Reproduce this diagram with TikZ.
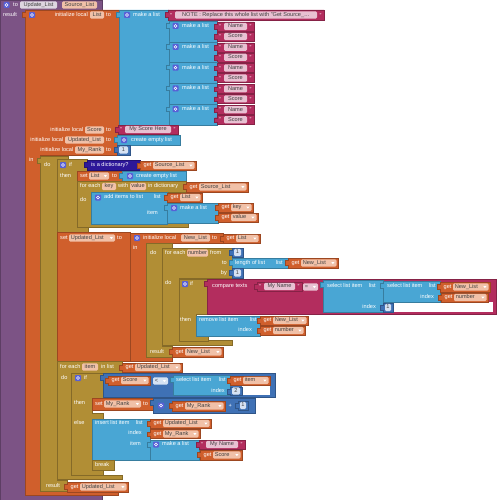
\documentclass[tikz,border=0pt]{standalone}
\usepackage{fontspec}
\setmainfont{Liberation Sans}
\definecolor{proc}{RGB}{124,83,133}
\definecolor{var}{RGB}{208,95,44}
\definecolor{ctl}{RGB}{177,142,53}
\definecolor{lst}{RGB}{73,166,212}
\definecolor{txt}{RGB}{179,45,94}
\definecolor{mth}{RGB}{63,113,181}
\definecolor{dct}{RGB}{45,23,153}
\definecolor{fvar}{RGB}{241,193,168}
\definecolor{ftxt}{RGB}{232,193,210}
\definecolor{fnum}{RGB}{214,226,243}
\definecolor{fproc}{RGB}{222,214,224}
\definecolor{gearc}{RGB}{88,96,214}
\newcounter{nid}
\newcommand\bx[5]{\filldraw[blk=#1] ({#2},{#3}) rectangle ({#4},{#5});}
\newcommand\vb[5]{\filldraw[blk=#1] ({#2},{#3}) -- ({#4},{#3}) -- ({#4},{#5}) -- ({#2},{#5}) -- ({#2},{#3+7}) -- ({#2-2.5},{#3+7}) -- ({#2-2.5},{#3+2.5}) -- ({#2},{#3+2.5}) -- cycle;}
\newcommand\lb[3]{\stepcounter{nid}\node[lbl,anchor=west] (n\arabic{nid}) at ({#1},{#2}) {#3};}
\newcommand\lbe[3]{\stepcounter{nid}\node[lbl,anchor=east] (n\arabic{nid}) at ({#1},{#2}) {#3};}
\newcommand\fl[5]{\fill[#1,rounded corners=1.2pt] ({#2},{#4-3.6}) rectangle ({#3},{#4+3.6});\stepcounter{nid}\node[ftx] (n\arabic{nid}) at ({(#2+#3)/2},{#4}) {#5};}
\newcommand\dfl[5]{\fill[#1,rounded corners=1.2pt] ({#2},{#4-3.6}) rectangle ({#3},{#4+3.6});\stepcounter{nid}\node[ftx,anchor=west] (n\arabic{nid}) at ({#2+1.6},{#4}) {#5};\fill[white] ({#3-5.2},{#4-0.9}) -- ({#3-2},{#4-0.9}) -- ({#3-3.6},{#4+1.1}) -- cycle;}
\newcommand\gr[2]{\fill[gearc,rounded corners=0.8pt] ({#1-3},{#2-3}) rectangle ({#1+3},{#2+3});\draw[white,line width=0.55pt] ({#1},{#2}) circle (1.4pt);}
\newcommand\getb[5]{\vb{var}{#1}{#3}{#2}{#4}\lb{#1+3.5}{(#3+#4)/2}{get}\dfl{fvar}{#1+13}{#2-1.5}{(#3+#4)/2}{#5}}
\newcommand\tb[5]{\vb{txt}{#1}{#3}{#2}{#4}\lb{#1+2}{(#3+#4)/2+0.8}{"}\lb{#2-4.5}{(#3+#4)/2+0.8}{"}\fl{ftxt}{#1+7}{#2-7}{(#3+#4)/2}{#5}}
\newcommand\nb[5]{\vb{mth}{#1}{#3}{#2}{#4}\fl{fnum}{#1+2}{#2-2}{(#3+#4)/2}{#5}}
\begin{document}
\begin{tikzpicture}[x=1pt,y=-1pt,
  blk/.style={fill=#1,draw=#1!75!black,line width=0.35pt},
  lbl/.style={text=white,font=\fontsize{5.6}{6.4}\selectfont,inner sep=0pt,text height=4pt,text depth=1.1pt},
  ftx/.style={text=black!75,font=\fontsize{5.6}{6.4}\selectfont,inner sep=0pt,text height=4pt,text depth=1.1pt}]
\useasboundingbox (0,0) rectangle (497,500);
% procedure
\filldraw[blk=proc] (0,0) -- (102,0) -- (102,10) -- (25,10) -- (25,495) -- (102,495) -- (102,500) -- (0,500) -- cycle;
\gr{6.5}{5}
\lb{13}{5}{to}
\fl{fproc}{20}{57}{5}{Update\_List}
\fl{fvar}{62}{97}{5}{Source\_List}
\lb{3}{15}{result}
% initialize local (outer)
\filldraw[blk=var] (25,10) -- (119,10) -- (119,155) -- (40,155) -- (40,491) -- (118,491) -- (118,495) -- (25,495) -- (25,17) -- (22.5,17) -- (22.5,12.5) -- (25,12.5) -- cycle;
\gr{32}{15}
\lbe{88}{15}{initialize local}\fl{fvar}{90}{104}{15}{List}\lb{106}{15}{to}
\lbe{83.5}{130}{initialize local}\fl{fvar}{85}{104}{130}{Score}\lb{106}{130}{to}
\lbe{63.5}{140}{initialize local}\fl{fvar}{65}{104}{140}{Updated\_List}\lb{106}{140}{to}
\lbe{73.5}{150}{initialize local}\fl{fvar}{75}{104}{150}{My\_Rank}\lb{106}{150}{to}
\lb{29}{160}{in}
% make a list (outer)
\vb{lst}{119}{10}{169}{126}
\gr{127}{15}\lb{133}{15}{make a list}
\tb{168}{324}{10}{20}{NOTE : Replace this whole list with "Get Source\_…}
\foreach \t in {21,41.8,62.6,83.4,104.2}{
  \vb{lst}{169}{\t}{217}{\t+21}
  \gr{175.5}{\t+5}\lb{182}{\t+5}{make a list}
  \tb{217}{254}{\t+1}{\t+10}{Name}
  \tb{217}{254}{\t+11}{\t+20}{Score}
}
\tb{118}{178}{125}{134}{My Score Here}
\vb{lst}{117}{135}{180}{145}\gr{124}{140}\lb{131}{140}{create empty list}
\nb{117}{130}{145}{155}{1}
% main do block
\filldraw[blk=ctl] (40,156) -- (68,156) -- (68,159) -- (57,159) -- (57,480) -- (67,480) -- (67,491) -- (40,491) -- (40,163) -- (37.5,163) -- (37.5,158.5) -- (40,158.5) -- cycle;
\lb{44}{165}{do}
\lb{46}{486}{result}
\getb{67}{128}{482}{492}{Updated\_List}
% if is a dictionary
\filldraw[blk=ctl] (57,159) -- (87,159) -- (87,171) -- (77,171) -- (77,227) -- (88,227) -- (88,232) -- (57,232) -- cycle;
\gr{63}{165}\lb{69}{165}{if}\lb{60}{176}{then}
\vb{dct}{87}{160}{140}{170}\lb{91}{165}{is a dictionary?}
\getb{140}{196}{161}{170}{Source\_List}
\bx{var}{77}{171}{122}{181}\lb{80}{176}{set}\dfl{fvar}{89}{109}{176}{List}\lb{112}{176}{to}
\vb{lst}{122}{171}{186}{181}\gr{130}{176}\lb{136}{176}{create empty list}
% for each key with value
\filldraw[blk=ctl] (77,181) -- (186,181) -- (186,192) -- (91,192) -- (91,222) -- (188,222) -- (188,227) -- (77,227) -- cycle;
\lb{80}{186.5}{for each}\fl{fvar}{102}{116}{186.5}{key}\lb{118}{186.5}{with}\fl{fvar}{130}{146}{186.5}{value}\lb{148}{186.5}{in dictionary}
\getb{186}{248}{182}{192}{Source\_List}
\lb{80}{200}{do}
\bx{lst}{91}{192}{167}{224}\gr{98}{197.5}\lb{104}{197.5}{add items to list}\lbe{161}{197.5}{list}\lbe{158}{213}{item}
\getb{167}{202}{193}{202}{List}
\vb{lst}{167}{203}{218}{223}\gr{174}{208}\lb{180}{208}{make a list}
\getb{218}{253}{203}{212}{key}
\getb{218}{258}{213}{222}{value}
% set Updated_List
\bx{var}{57}{232}{130}{361}\lb{60}{238}{set}\dfl{fvar}{69}{115}{238}{Updated\_List}\lb{117}{238}{to}
\filldraw[blk=var] (130,233) -- (223,233) -- (223,243) -- (147,243) -- (147,357) -- (172,357) -- (172,361) -- (130,361) -- cycle;
\gr{137}{238}\lb{143}{238}{initialize local}\fl{fvar}{181}{210}{238}{New\_List}\lb{212}{238}{to}
\getb{223}{260}{234}{243}{List}
\lb{133}{248}{in}
\filldraw[blk=ctl] (146,243) -- (172,243) -- (172,248) -- (162,248) -- (162,346) -- (172,346) -- (172,357) -- (146,357) -- cycle;
\lb{150}{253}{do}\lb{150}{352}{result}
\getb{172}{223}{347}{357}{New\_List}
% for each number
\filldraw[blk=ctl] (162,248) -- (232,248) -- (232,278) -- (179,278) -- (179,340) -- (232,340) -- (232,345) -- (162,345) -- cycle;
\lb{165}{253}{for each}\fl{fvar}{187}{208}{253}{number}\lb{210}{253}{from}
\lbe{227}{263}{to}\lbe{227}{273}{by}
\nb{232}{243}{248}{257}{1}
\vb{lst}{232}{258}{288}{268}\lb{235}{263}{length of list}\lbe{283}{263}{list}
\getb{288}{338}{258}{268}{New\_List}
\nb{232}{243}{268}{278}{1}
\lb{165}{283}{do}
% if compare texts
\filldraw[blk=ctl] (179,279) -- (207,279) -- (207,314) -- (196,314) -- (196,336) -- (208,336) -- (208,341) -- (179,341) -- cycle;
\gr{185}{284}\lb{190}{284}{if}\lb{180}{320}{then}
\vb{txt}{207}{279}{496}{314}
\lb{212}{286}{compare texts}
\tb{257}{302}{282}{291}{My Name}
\dfl{ftxt}{303}{318}{287}{=}
\fill[white] (393,302) rectangle (493,311.5);
\vb{lst}{323}{280}{383}{312}\lb{327}{286}{select list item}\lbe{376}{286}{list}\lbe{376}{307}{index}
\nb{383}{393}{303}{312}{1}
\vb{lst}{383}{281}{440}{302}\lb{387}{286}{select list item}\lbe{436}{286}{list}\lbe{434}{297}{index}
\getb{440}{490}{282}{292}{New\_List}
\getb{441}{488}{293}{302}{number}
\bx{lst}{196}{316}{260}{336}\lb{199}{320}{remove list item}\lbe{257}{320}{list}\lbe{252}{330}{index}
\getb{260}{308}{316}{325}{New\_List}
\getb{260}{305}{326}{335}{number}
% for each item
\filldraw[blk=ctl] (57,361) -- (122,361) -- (122,373) -- (71,373) -- (71,475) -- (122,475) -- (122,479) -- (57,479) -- cycle;
\lb{60}{367}{for each}\fl{fvar}{82}{98}{367}{item}\lb{101}{367}{in list}
\getb{122}{182}{363}{372}{Updated\_List}
\lb{61}{378}{do}
% if / else
\filldraw[blk=ctl] (71,373) -- (103,373) -- (103,398) -- (92,398) -- (92,413) -- (103,413) -- (103,419) -- (92,419) -- (92,470) -- (103,470) -- (103,475) -- (71,475) -- cycle;
\gr{78}{378}\lb{84}{378}{if}\lb{74}{403}{then}\lb{74}{423}{else}
\vb{mth}{103}{373}{275}{397}
\getb{108}{150}{376}{385}{Score}
\dfl{fnum}{153}{168}{381}{<}
\fill[white] (242,386) rectangle (270,395);
\vb{lst}{173}{375}{230}{395}\lb{176}{380}{select list item}\lbe{226}{380}{list}\lbe{225}{391}{index}
\getb{230}{270}{376}{385}{item}
\nb{230}{242}{387}{395}{2}
\bx{var}{92}{398}{153}{410}\lb{95}{404}{set}\dfl{fvar}{104}{141}{404}{My\_Rank}\lb{143}{404}{to}
\vb{mth}{153}{398}{255}{413}\gr{161}{405.5}
\getb{172}{225}{401}{411}{My\_Rank}
\lb{228.5}{406}{+}
\nb{238}{248}{401}{410}{1}
\bx{lst}{92}{419}{150}{460}\lb{95}{423.5}{insert list item}\lbe{143}{423.5}{list}\lbe{142}{433.5}{index}\lbe{141}{444.5}{item}
\getb{150}{211}{419}{428}{Updated\_List}
\getb{150}{200}{429.5}{438.5}{My\_Rank}
\vb{lst}{150}{440}{199}{460}\gr{156}{444.5}\lb{162}{444.5}{make a list}
\tb{199}{245}{440}{449}{My Name}
\getb{200}{242}{450}{460}{Score}
\bx{ctl}{92}{460}{114}{470}\lb{95}{465}{break}
\end{tikzpicture}
\end{document}
